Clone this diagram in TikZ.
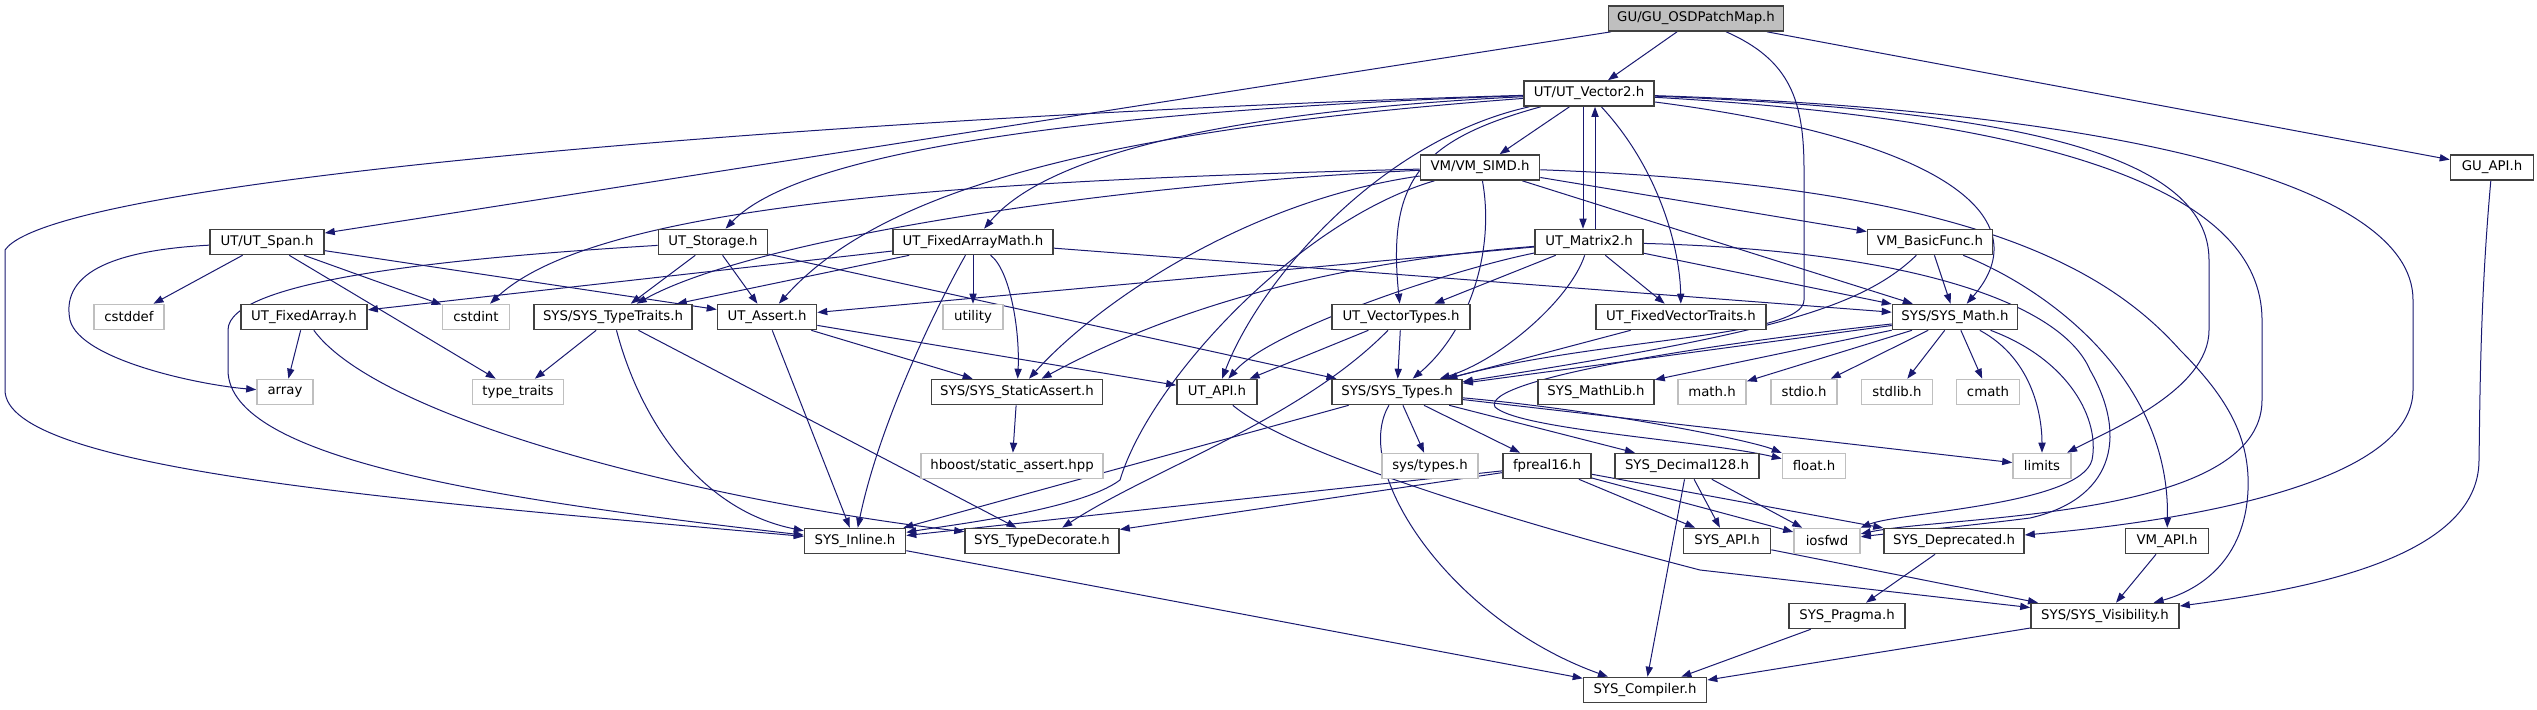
\documentclass[tikz,border=0pt]{standalone}
\usepackage{fontspec}
\setmainfont{DejaVu Sans}
\usepackage{xcolor}
\usetikzlibrary{arrows.meta,positioning,backgrounds}
\definecolor{edgeblue}{HTML}{191970}

\begin{document}
\begin{tikzpicture}[
    x=0.5pt, y=-0.5pt,
    hdr/.style={draw=black!75, fill=white, line width=0.8pt, minimum height=12.5pt, inner sep=0pt, font=\fontsize{6.65}{8}\selectfont},
    sys/.style={hdr, draw=black!25},
    root/.style={hdr, fill=black!25},
    wd/.style={minimum width=#1*0.5pt},
    dep/.style={-{Triangle[length=5pt,width=3.6pt]}, draw=edgeblue, line width=0.5pt}
]
    \useasboundingbox (0,0) rectangle (2537,709);

    \node[root, wd=175] (gu) at (1696,18.5) {GU/GU\_OSDPatchMap.h};
    \node[hdr, wd=130] (vec2) at (1589,93.5) {UT/UT\_Vector2.h};
    \node[hdr, wd=119] (simd) at (1480,167.5) {VM/VM\_SIMD.h};
    \node[hdr, wd=83] (guapi) at (2492,167.5) {GU\_API.h};
    \node[hdr, wd=114] (span) at (267,242) {UT/UT\_Span.h};
    \node[hdr, wd=109] (storage) at (713,242) {UT\_Storage.h};
    \node[hdr, wd=160] (famath) at (973,242) {UT\_FixedArrayMath.h};
    \node[hdr, wd=108] (mat2) at (1589,242) {UT\_Matrix2.h};
    \node[hdr, wd=125] (basic) at (1930,242) {VM\_BasicFunc.h};
    \node[sys, wd=70] (cstddef) at (129,317) {cstddef};
    \node[hdr, wd=126] (farray) at (304,317) {UT\_FixedArray.h};
    \node[sys, wd=67] (cstdint) at (476,317) {cstdint};
    \node[hdr, wd=158] (traits) at (613,317) {SYS/SYS\_TypeTraits.h};
    \node[hdr, wd=99] (assert) at (767,317) {UT\_Assert.h};
    \node[sys, wd=60] (utility) at (973,317) {utility};
    \node[hdr, wd=138] (vtypes) at (1401,317) {UT\_VectorTypes.h};
    \node[hdr, wd=170] (fvtraits) at (1681,317) {UT\_FixedVectorTraits.h};
    \node[hdr, wd=125] (sysmath) at (1955,317) {SYS/SYS\_Math.h};
    \node[sys, wd=56] (array) at (285,392) {array};
    \node[sys, wd=91] (typetr) at (518,392) {type\_traits};
    \node[hdr, wd=171] (sassert) at (1017,392) {SYS/SYS\_StaticAssert.h};
    \node[hdr, wd=80] (utapi) at (1217,392) {UT\_API.h};
    \node[hdr, wd=130] (types) at (1397,392) {SYS/SYS\_Types.h};
    \node[hdr, wd=116] (mathlib) at (1596,392) {SYS\_MathLib.h};
    \node[sys, wd=68] (mathh) at (1712,392) {math.h};
    \node[sys, wd=66] (stdio) at (1804,392) {stdio.h};
    \node[sys, wd=71] (stdlib) at (1897,392) {stdlib.h};
    \node[sys, wd=63] (cmath) at (1988,392) {cmath};
    \node[sys, wd=182] (boost) at (1012,466) {hboost/static\_assert.hpp};
    \node[sys, wd=96] (systypes) at (1430,466) {sys/types.h};
    \node[hdr, wd=88] (fp16) at (1547,466) {fpreal16.h};
    \node[hdr, wd=144] (dec128) at (1687,466) {SYS\_Decimal128.h};
    \node[sys, wd=63] (floath) at (1814,466) {float.h};
    \node[sys, wd=58] (limits) at (2042,466) {limits};
    \node[hdr, wd=101] (inline) at (855,541) {SYS\_Inline.h};
    \node[hdr, wd=154] (decor) at (1042,541) {SYS\_TypeDecorate.h};
    \node[hdr, wd=87] (sysapi) at (1727,541) {SYS\_API.h};
    \node[sys, wd=66] (iosfwd) at (1827,541) {iosfwd};
    \node[hdr, wd=140] (deprec) at (1954,541) {SYS\_Deprecated.h};
    \node[hdr, wd=83] (vmapi) at (2167,541) {VM\_API.h};
    \node[hdr, wd=116] (pragma) at (1847,616) {SYS\_Pragma.h};
    \node[hdr, wd=148] (visib) at (2105,616) {SYS/SYS\_Visibility.h};
    \node[hdr, wd=123] (compiler) at (1645,690) {SYS\_Compiler.h};

    \begin{scope}[on background layer]
    \draw[dep] (gu) -- (vec2);
    \draw[dep] (gu) -- (span);
    \draw[dep] (gu) -- (guapi);
    \draw[dep] (gu) .. controls (1790,60) and (1804,100) .. (1804,170) -- (1804,300) .. controls (1804,338) and (1600,338) .. (types);

    \draw[dep] (vec2) .. controls (1000,110) and (60,170) .. (5,250) -- (5,390) .. controls (5,470) and (400,500) .. (inline);
    \draw[dep] (vec2) .. controls (1100,110) and (800,150) .. (storage);
    \draw[dep] (vec2) .. controls (1250,110) and (1050,150) .. (famath);
    \draw[dep] (vec2) .. controls (1100,130) and (880,190) .. (assert);
    \draw[dep] (vec2) -- (simd);
    \draw[dep] ([xshift=-3pt]vec2.south) -- ([xshift=-3pt]mat2.north);
    \draw[dep] (vec2) .. controls (1420,140) and (1387,180) .. (vtypes);
    \draw[dep] (vec2) .. controls (1380,140) and (1260,280) .. (utapi);
    \draw[dep] (vec2) .. controls (1660,170) and (1680,250) .. (fvtraits);
    \draw[dep] (vec2) .. controls (1950,140) and (2040,220) .. (sysmath);
    \draw[dep] (vec2) .. controls (2000,110) and (2209,150) .. (2209,260) -- (2209,330) .. controls (2209,390) and (2110,430) .. (limits);
    \draw[dep] (vec2) .. controls (2050,120) and (2262,190) .. (2262,320) -- (2262,400) .. controls (2262,520) and (1950,515) .. (iosfwd);
    \draw[dep] (vec2) .. controls (2100,110) and (2413,180) .. (2413,300) -- (2413,390) .. controls (2413,480) and (2200,520) .. (deprec);

    \draw[dep] (simd) .. controls (1000,180) and (600,200) .. (cstdint);
    \draw[dep] (simd) .. controls (1100,185) and (750,240) .. (traits);
    \draw[dep] (simd) .. controls (1250,200) and (1100,300) .. (sassert);
    \draw[dep] (simd) .. controls (1300,220) and (1150,380) .. (1120,480) .. controls (1080,510) and (950,525) .. (inline);
    \draw[dep] (simd) .. controls (1495,250) and (1470,330) .. (types);
    \draw[dep] (simd) -- (basic);
    \draw[dep] (simd) -- (sysmath);
    \draw[dep] (simd) .. controls (1950,185) and (2100,260) .. (2180,350) .. controls (2230,400) and (2250,440) .. (2248,490) .. controls (2245,560) and (2200,590) .. (visib);

    \draw[dep] (guapi) .. controls (2480,300) and (2480,400) .. (2479,460) .. controls (2479,560) and (2300,590) .. (visib);

    \draw[dep] (span) -- (cstddef);
    \draw[dep] (span) .. controls (120,250) and (60,270) .. (70,320) .. controls (80,360) and (200,385) .. (array);
    \draw[dep] (span) -- (typetr);
    \draw[dep] (span) -- (cstdint);
    \draw[dep] (span) -- (assert);

    \draw[dep] (storage) -- (traits);
    \draw[dep] (storage) -- (assert);
    \draw[dep] (storage) -- (types);
    \draw[dep] (storage) .. controls (450,258) and (228,280) .. (228,330) -- (228,370) .. controls (228,460) and (500,500) .. (inline);

    \draw[dep] (famath) -- (farray);
    \draw[dep] (famath) -- (traits);
    \draw[dep] (famath) -- (utility);
    \draw[dep] (famath) .. controls (1010,270) and (1020,330) .. (sassert);
    \draw[dep] (famath) .. controls (940,300) and (880,420) .. (inline);
    \draw[dep] (famath) -- (sysmath);

    \draw[dep] ([xshift=3pt]mat2.north) -- ([xshift=3pt]vec2.south);
    \draw[dep] (mat2) -- (vtypes);
    \draw[dep] (mat2) -- (fvtraits);
    \draw[dep] (mat2) .. controls (1570,300) and (1500,360) .. (types);
    \draw[dep] (mat2) -- (assert);
    \draw[dep] (mat2) .. controls (1300,265) and (1150,320) .. (sassert);
    \draw[dep] (mat2) .. controls (1450,270) and (1270,330) .. (utapi);
    \draw[dep] (mat2) -- (sysmath);
    \draw[dep] (mat2) .. controls (1900,250) and (2060,300) .. (2090,370) .. controls (2130,440) and (2110,500) .. (2030,518) .. controls (1950,528) and (1900,532) .. (iosfwd);

    \draw[dep] (basic) -- (sysmath);
    \draw[dep] (basic) .. controls (1860,310) and (1760,335) .. (types);
    \draw[dep] (basic) .. controls (2050,290) and (2170,380) .. (vmapi);

    \draw[dep] (farray) -- (array);
    \draw[dep] (farray) .. controls (380,420) and (700,500) .. (decor);
    \draw[dep] (traits) -- (typetr);
    \draw[dep] (traits) .. controls (640,420) and (700,510) .. (inline);
    \draw[dep] (traits) -- (decor);
    \draw[dep] (assert) -- (inline);
    \draw[dep] (assert) -- (sassert);
    \draw[dep] (assert) -- (utapi);
    \draw[dep] (vtypes) -- (types);
    \draw[dep] (vtypes) -- (utapi);
    \draw[dep] (vtypes) .. controls (1300,420) and (1150,470) .. (decor);
    \draw[dep] (fvtraits) -- (types);

    \draw[dep] (sysmath) -- (types);
    \draw[dep] (sysmath) -- (mathlib);
    \draw[dep] (sysmath) -- (mathh);
    \draw[dep] (sysmath) -- (stdio);
    \draw[dep] (sysmath) -- (stdlib);
    \draw[dep] (sysmath) -- (cmath);
    \draw[dep] (sysmath) .. controls (2035,360) and (2042,420) .. (limits);
    \draw[dep] (sysmath) .. controls (2070,360) and (2100,420) .. (2092,460) .. controls (2080,505) and (1900,512) .. (iosfwd);
    \draw[dep] (sysmath) .. controls (1700,345) and (1480,380) .. (1495,407) .. controls (1520,430) and (1700,440) .. (floath);

    \draw[dep] (sassert) -- (boost);
    \draw[dep] (utapi) .. controls (1280,445) and (1450,505) .. (1700,570) -- (visib);

    \draw[dep] (types) -- (inline);
    \draw[dep] (types) .. controls (1350,470) and (1450,620) .. (compiler);
    \draw[dep] (types) -- (systypes);
    \draw[dep] (types) -- (fp16);
    \draw[dep] (types) -- (dec128);
    \draw[dep] (types) .. controls (1600,410) and (1750,440) .. (floath);
    \draw[dep] (types) -- (limits);

    \draw[dep] (fp16) -- (inline);
    \draw[dep] (fp16) -- (decor);
    \draw[dep] (fp16) -- (sysapi);
    \draw[dep] (fp16) -- (iosfwd);
    \draw[dep] (fp16) -- (deprec);
    \draw[dep] (dec128) -- (sysapi);
    \draw[dep] (dec128) -- (iosfwd);
    \draw[dep] (dec128) -- (compiler);

    \draw[dep] (inline) -- (compiler);
    \draw[dep] (sysapi) -- (visib);
    \draw[dep] (deprec) -- (pragma);
    \draw[dep] (vmapi) -- (visib);
    \draw[dep] (pragma) -- (compiler);
    \draw[dep] (visib) -- (compiler);
    \end{scope}
\end{tikzpicture}
\end{document}
